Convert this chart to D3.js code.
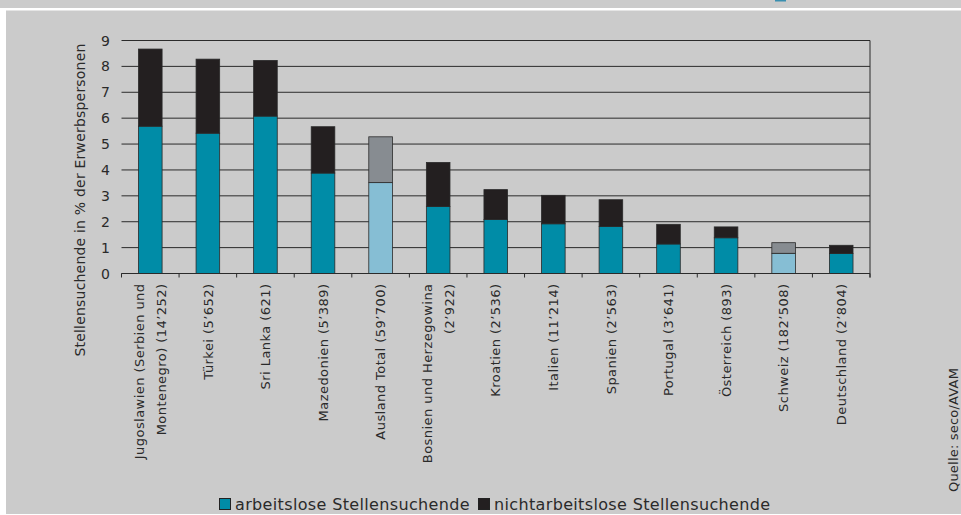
<!DOCTYPE html>
<html>
<head>
<meta charset="utf-8">
<script src="https://cdn.jsdelivr.net/npm/d3@7"></script>
<style>
  body { margin: 0; background: #fff; }
  svg { display: block; font-family: "DejaVu Sans", sans-serif; }
</style>
</head>
<body>
<div id="graphicContainer"></div>
<script>
// label lines (two entries = two lines)
var categories = [
  ["Jugoslawien (Serbien und", "Montenegro) (14’252)"],
  ["Türkei (5’652)"],
  ["Sri Lanka (621)"],
  ["Mazedonien (5’389)"],
  ["Ausland Total (59’700)"],
  ["Bosnien und Herzegowina", "(2’922)"],
  ["Kroatien (2’536)"],
  ["Italien (11’214)"],
  ["Spanien (2’563)"],
  ["Portugal (3’641)"],
  ["Österreich (893)"],
  ["Schweiz (182’508)"],
  ["Deutschland (2’804)"]
];
var arbeitslos      = [5.69, 5.42, 6.08, 3.88, 3.51, 2.59, 2.09, 1.92, 1.82, 1.14, 1.38, 0.78, 0.77];
var nichtarbeitslos = [2.98, 2.86, 2.15, 1.79, 1.77, 1.70, 1.15, 1.10, 1.03, 0.76, 0.42, 0.41, 0.32];
// bars drawn in the lighter "total" colours
var highlighted = ["Ausland Total (59’700)", "Schweiz (182’508)"];
var yTicks = [0, 1, 2, 3, 4, 5, 6, 7, 8, 9];
var legendLabels = ["arbeitslose Stellensuchende", "nichtarbeitslose Stellensuchende"];

var width = 961, height = 515;
var margin = {top: 40.5, right: 91, bottom: 241.5, left: 121.5};

var svg = d3.select("#graphicContainer").append("svg")
  .attr("width", width)
  .attr("height", height);

// backgrounds
svg.append("rect").attr("width", width).attr("height", height).attr("fill", "#fff");
svg.append("rect").attr("x", 6).attr("y", 10.5).attr("width", width - 6).attr("height", height - 11.5).attr("fill", "#cbcbcb");
svg.append("rect").attr("width", width).attr("height", 8).attr("fill", "#cbcbcb");
svg.append("rect").attr("x", 775).attr("y", 0).attr("width", 11).attr("height", 1.5).attr("fill", "#3a8fb0");

var keys = categories.map(function(d) { return d.join(" "); });
var rows = keys.map(function(k, i) {
  return {key: k, a: arbeitslos[i], n: nichtarbeitslos[i], hl: highlighted.indexOf(categories[i][0]) >= 0};
});

var x = d3.scaleBand()
  .domain(keys)
  .range([margin.left, width - margin.right])
  .paddingInner(0.59)
  .paddingOuter(0.295);

var y = d3.scaleLinear()
  .domain([0, 9])
  .range([height - margin.bottom, margin.top]);

// gridlines
svg.append("g")
  .selectAll("line")
  .data(yTicks)
  .enter()
  .append("line")
  .attr("x1", margin.left)
  .attr("x2", width - margin.right)
  .attr("y1", function(d) { return y(d); })
  .attr("y2", function(d) { return y(d); })
  .attr("stroke", "#2b2b2b")
  .attr("stroke-width", 1);

// right frame line
svg.append("line")
  .attr("x1", width - margin.right).attr("x2", width - margin.right)
  .attr("y1", y(9)).attr("y2", y(0) + 4)
  .attr("stroke", "#2b2b2b");

var stack = d3.stack().keys(["a", "n"]);
var series = stack(rows);

var colors = {a: "#008ca7", n: "#231f20"};
var colorsHl = {a: "#86bed4", n: "#878c91"};

svg.append("g")
  .selectAll("g")
  .data(series)
  .enter()
  .append("g")
  .each(function(s) {
    d3.select(this).selectAll("rect")
      .data(s)
      .enter()
      .append("rect")
      .attr("x", function(d) { return x(d.data.key); })
      .attr("width", x.bandwidth())
      .attr("y", function(d) { return y(d[1]); })
      .attr("height", function(d) { return y(d[0]) - y(d[1]); })
      .attr("fill", function(d) { return d.data.hl ? colorsHl[s.key] : colors[s.key]; })
      .attr("stroke", "#2a2a2a")
      .attr("stroke-width", 0.8);
  });

// x axis
var xAxis = svg.append("g")
  .attr("transform", "translate(0," + y(0) + ")");

xAxis.append("line")
  .attr("x1", margin.left).attr("x2", width - margin.right)
  .attr("stroke", "#2b2b2b");

var step = x.step();
var boundaries = d3.range(keys.length + 1).map(function(i) { return margin.left + i * step; });
xAxis.selectAll(".tick")
  .data(boundaries)
  .enter()
  .append("line")
  .attr("x1", function(d) { return d; })
  .attr("x2", function(d) { return d; })
  .attr("y1", 0)
  .attr("y2", 4)
  .attr("stroke", "#2b2b2b");

// x labels
svg.append("g")
  .selectAll("g")
  .data(categories)
  .enter()
  .append("g")
  .attr("transform", function(d, i) {
    return "translate(" + (x(keys[i]) + x.bandwidth() / 2) + "," + (y(0) + 10) + ") rotate(-90)";
  })
  .each(function(lines) {
    var g = d3.select(this);
    lines.forEach(function(t, j) {
      var off = lines.length === 1 ? 0 : (j === 0 ? -11 : 11);
      g.append("text")
        .attr("x", 0)
        .attr("y", off)
        .attr("dy", "0.36em")
        .attr("text-anchor", "end")
        .attr("font-size", 13)
        .attr("letter-spacing", 0.45)
        .attr("fill", "#2a2a2a")
        .text(t);
    });
  });

// y tick labels
svg.append("g")
  .selectAll("text")
  .data(yTicks)
  .enter()
  .append("text")
  .attr("x", 110)
  .attr("y", function(d) { return y(d); })
  .attr("dy", "0.36em")
  .attr("text-anchor", "end")
  .attr("font-size", 14)
  .attr("fill", "#2a2a2a")
  .text(function(d) { return d; });

// y title
svg.append("text")
  .attr("transform", "translate(80,200) rotate(-90)")
  .attr("text-anchor", "middle")
  .attr("dy", "0.36em")
  .attr("font-size", 14)
  .attr("letter-spacing", 0.2)
  .attr("fill", "#2a2a2a")
  .text("Stellensuchende in % der Erwerbspersonen");

// legend
var legend = svg.append("g").attr("transform", "translate(219,498)");
var legendX = [0, 259];
var legendFill = [colors.a, colors.n];
legendLabels.forEach(function(t, i) {
  legend.append("rect")
    .attr("x", legendX[i] + 0.5).attr("y", 0.5)
    .attr("width", 11).attr("height", 11)
    .attr("fill", legendFill[i])
    .attr("stroke", "#222");
  legend.append("text")
    .attr("x", legendX[i] + 16)
    .attr("y", 11.5)
    .attr("font-size", 16)
    .attr("letter-spacing", 0.35)
    .attr("fill", "#2a2a2a")
    .text(t);
});

// source
svg.append("text")
  .attr("transform", "translate(953,492) rotate(-90)")
  .attr("text-anchor", "start")
  .attr("dy", "0.36em")
  .attr("font-size", 13)
  .attr("letter-spacing", 0.2)
  .attr("fill", "#2a2a2a")
  .text("Quelle: seco/AVAM");
</script>
</body>
</html>
